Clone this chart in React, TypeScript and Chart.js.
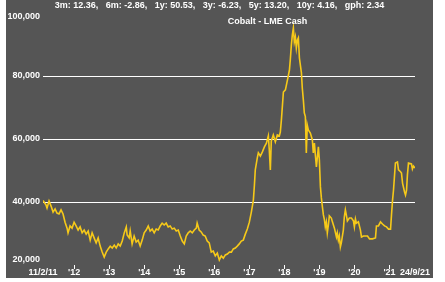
import React, { useEffect, useRef } from 'react';
import { Chart, registerables } from 'chart.js';

Chart.register(...registerables);

const dates: string[] = [
  '2011-02-11','2011-03-15','2011-03-25','2011-04-15','2011-05-06','2011-05-27','2011-06-17','2011-07-07','2011-07-28','2011-08-18',
  '2011-09-08','2011-09-29','2011-10-20','2011-10-30','2011-11-20','2011-12-11','2012-01-01','2012-01-22','2012-02-12','2012-03-04',
  '2012-03-25','2012-04-15','2012-05-06','2012-05-27','2012-06-17','2012-07-07','2012-07-28','2012-08-18','2012-09-08','2012-09-29',
  '2012-10-20','2012-11-10','2012-12-01','2012-12-22','2013-01-12','2013-02-02','2013-02-23','2013-03-15','2013-04-05','2013-04-26',
  '2013-05-17','2013-06-07','2013-06-28','2013-07-07','2013-07-28','2013-08-08','2013-08-28','2013-09-18','2013-10-09','2013-10-30',
  '2013-11-20','2013-12-11','2014-01-01','2014-01-22','2014-02-12','2014-03-04','2014-03-25','2014-04-15','2014-05-06','2014-05-27',
  '2014-06-17','2014-07-07','2014-07-28','2014-08-18','2014-09-08','2014-09-29','2014-10-20','2014-11-10','2014-12-01','2014-12-22',
  '2015-01-12','2015-02-02','2015-02-23','2015-03-15','2015-04-05','2015-04-26','2015-05-17','2015-06-07','2015-06-28','2015-07-07',
  '2015-07-28','2015-08-18','2015-09-08','2015-09-29','2015-10-20','2015-11-10','2015-12-01','2015-12-22','2016-01-12','2016-02-02',
  '2016-02-23','2016-03-15','2016-04-05','2016-04-26','2016-05-17','2016-06-07','2016-06-28','2016-07-18','2016-08-08','2016-08-28',
  '2016-09-18','2016-10-09','2016-10-30','2016-11-20','2016-12-11','2017-01-01','2017-01-22','2017-02-12','2017-02-23','2017-03-04',
  '2017-03-25','2017-04-05','2017-04-26','2017-05-17','2017-06-07','2017-06-28','2017-07-18','2017-07-28','2017-08-08','2017-08-18',
  '2017-09-08','2017-09-29','2017-10-20','2017-11-10','2017-11-20','2017-12-01','2017-12-22','2018-01-12','2018-02-02','2018-02-23',
  '2018-03-04','2018-03-15','2018-03-25','2018-04-05','2018-04-15','2018-04-26','2018-05-06','2018-05-17','2018-05-27','2018-06-07',
  '2018-06-28','2018-07-07','2018-07-18','2018-07-28','2018-08-08','2018-08-18','2018-08-28','2018-09-08','2018-09-29','2018-10-20',
  '2018-10-30','2018-11-10','2018-12-01','2018-12-22','2019-01-01','2019-01-12','2019-01-22','2019-02-02','2019-02-12','2019-02-23',
  '2019-03-04','2019-03-15','2019-03-25','2019-04-05','2019-04-15','2019-05-06','2019-05-17','2019-06-07','2019-06-28','2019-07-07',
  '2019-07-18','2019-07-28','2019-08-08','2019-08-18','2019-09-08','2019-09-18','2019-09-29','2019-10-09','2019-10-20','2019-11-10',
  '2019-12-01','2019-12-22','2020-01-01','2020-01-12','2020-01-22','2020-02-12','2020-03-04','2020-03-15','2020-04-05','2020-05-17',
  '2020-06-07','2020-07-07','2020-08-08','2020-08-18','2020-09-08','2020-09-29','2020-10-20','2020-11-10','2020-12-01','2020-12-22',
  '2021-01-12','2021-01-22','2021-02-02','2021-02-12','2021-02-23','2021-03-04','2021-03-25','2021-04-05','2021-04-26','2021-05-06',
  '2021-05-17','2021-06-07','2021-06-17','2021-06-28','2021-07-07','2021-07-18','2021-08-18','2021-08-28','2021-09-08','2021-09-24',
];

const prices: number[] = [
  40500,39000,38100,40300,38700,36800,37800,36500,36200,37500,
  36200,33600,31700,30200,32400,31700,33600,32400,31100,32100,
  30200,31100,29800,30800,27900,30200,28600,27000,28600,26000,
  24100,22500,24100,25100,26000,25400,26300,25400,26700,26000,
  27600,30200,32100,29500,28600,30800,26700,29200,27300,27900,
  26000,27900,30200,31100,32400,30800,31400,30200,31400,31100,
  32400,33300,32700,33300,32100,32400,31400,31700,30800,31100,
  29200,27600,26700,29200,30200,30800,30200,31100,31700,33300,
  31100,30500,29500,29200,27600,27000,24100,24400,22900,23800,
  21600,22900,22200,23200,23500,24100,24100,25100,25400,26000,
  26700,27600,27900,29800,31400,33600,36800,40600,45400,50200,
  54000,55600,54600,55900,57500,58700,61000,56500,50200,59400,
  61300,59100,61300,61000,62200,66000,74900,75600,78700,81900,
  85100,89800,93000,95200,90800,92400,88900,91400,92100,85700,
  81000,76200,72400,68300,67100,55600,64400,62900,61900,59700,
  55600,58700,51100,57500,53300,44800,41300,38400,35900,34300,
  32100,33700,30200,32700,35600,34900,33700,31700,28900,30200,
  27900,29200,25700,27000,31100,35200,37500,35900,34000,34900,
  34900,34000,32100,34600,33300,33700,31100,28900,29200,29200,
  28300,28300,28600,32400,32400,33700,33000,32400,32100,31400,
  31400,35900,40600,43800,48600,52400,52700,50200,49600,49200,
  46000,43200,42200,43800,48600,52400,52100,50500,51400,50800,
];

const tickDates: string[] = [
  '2011-02-11','2012-01-01','2013-01-01','2014-01-01','2015-01-01','2016-01-01',
  '2017-01-01','2018-01-01','2019-01-01','2020-01-01','2021-01-01','2021-09-24',
];
const tickLabels: string[] = [
  '11/2/11',"'12","'13","'14","'15","'16","'17","'18","'19","'20","'21",'24/9/21',
];

const yMin = 20000;
const yMax = 100000;
const yStep = 20000;
const gridValues: number[] = [40000, 60000, 80000];

const headerText = '3m: 12.36,   6m: -2.86,   1y: 50.53,   3y: -6.23,   5y: 13.20,   10y: 4.16,   gph: 2.34';
const titleText = 'Cobalt - LME Cash';

const FONT = '"Liberation Sans", Arial, sans-serif';
const LINE_COLOR = '#f6c919';
const PANEL_BG = '#555555';

const toMs = (s: string): number => {
  const [y, m, d] = s.split('-').map(Number);
  return Date.UTC(y, m - 1, d);
};

const headerPlugin = {
  id: 'headerText',
  afterDraw(chart: any) {
    const ctx = chart.ctx;
    ctx.save();
    ctx.fillStyle = '#ffffff';
    ctx.font = `bold 9px ${FONT}`;
    ctx.textAlign = 'center';
    ctx.textBaseline = 'middle';
    ctx.fillText(headerText, chart.width / 2, 6);
    ctx.fillText(titleText, 261.5, 22);
    ctx.restore();
  },
};

export default function App() {
  const canvasRef = useRef<HTMLCanvasElement | null>(null);

  useEffect(() => {
    document.body.style.margin = '0';
    const canvas = canvasRef.current;
    if (!canvas) return;
    const tickMs = tickDates.map(toMs);
    const points = dates.map((d, i) => ({ x: toMs(d), y: prices[i] }));

    const chart = new Chart(canvas, {
      type: 'line',
      data: {
        datasets: [
          {
            label: titleText,
            data: points,
            borderColor: LINE_COLOR,
            borderWidth: 1.6,
            pointRadius: 0,
            tension: 0,
            fill: false,
          },
        ],
      },
      options: {
        animation: false,
        responsive: false,
        maintainAspectRatio: false,
        layout: { autoPadding: false, padding: { top: 13, right: 18, left: 0, bottom: 0 } },
        plugins: {
          legend: { display: false },
          title: { display: false },
          tooltip: { enabled: false },
        },
        scales: {
          x: {
            type: 'linear',
            min: tickMs[0],
            max: tickMs[tickMs.length - 1],
            afterBuildTicks: (scale: any) => {
              scale.ticks = tickMs.map((v) => ({ value: v }));
            },
            afterFit: (scale: any) => {
              scale.height = 13;
            },
            border: { display: false },
            grid: {
              drawOnChartArea: false,
              drawTicks: true,
              tickLength: 4,
              color: (ctx: any) =>
                ctx.index === 0 || ctx.index === tickMs.length - 1 ? 'rgba(0,0,0,0)' : '#ffffff',
              tickColor: (ctx: any) =>
                ctx.index === 0 || ctx.index === tickMs.length - 1 ? 'rgba(0,0,0,0)' : '#ffffff',
              lineWidth: 1,
            },
            ticks: {
              autoSkip: false,
              maxRotation: 0,
              minRotation: 0,
              padding: -1,
              color: '#ffffff',
              font: { family: FONT, size: 9, weight: 'bold', lineHeight: 1 },
              callback: (value: any) => {
                const idx = tickMs.indexOf(Number(value));
                return idx >= 0 ? tickLabels[idx] : '';
              },
            },
          },
          y: {
            type: 'linear',
            min: yMin,
            max: yMax,
            afterFit: (scale: any) => {
              scale.width = 37;
            },
            border: { display: false },
            grid: {
              drawTicks: false,
              color: (ctx: any) =>
                ctx.tick && gridValues.includes(ctx.tick.value) ? '#ffffff' : 'rgba(0,0,0,0)',
              lineWidth: 1,
            },
            ticks: {
              stepSize: yStep,
              padding: 3,
              color: '#ffffff',
              font: (ctx: any) => {
                const v = ctx.tick ? ctx.tick.value : 0;
                const lh = v === yMax ? '8px' : v === yMin ? '10px' : 1.2;
                return { family: FONT, size: 9, weight: 'bold', lineHeight: lh };
              },
              callback: (value: any) => {
                const v = Number(value);
                const s = v.toLocaleString('en-US');
                if (v === yMax) return ['', s];
                if (v === yMin) return [s, ''];
                return s;
              },
            },
          },
        },
      },
      plugins: [headerPlugin],
    } as any);

    return () => {
      chart.destroy();
    };
  }, []);

  return (
    <div
      style={{
        position: 'absolute',
        left: 6,
        top: 0,
        width: 427,
        height: 278,
        background: PANEL_BG,
      }}
    >
      <canvas ref={canvasRef} width={427} height={278} style={{ display: 'block', width: 427, height: 278 }} />
    </div>
  );
}
